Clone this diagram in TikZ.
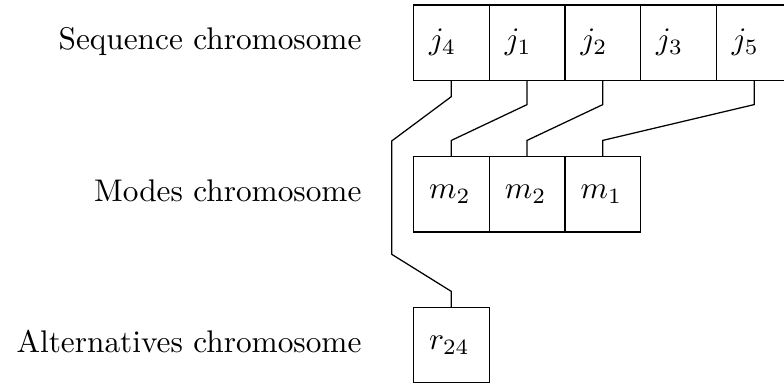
\documentclass[tikz,border=0pt]{standalone}
\begin{document}
\begin{tikzpicture}[x=0.3195pt,y=-0.3195pt,
  cell/.style={draw,line width=0.4pt,rectangle,minimum width=24.19pt,minimum height=24.06pt,
    inner xsep=4.95pt,inner ysep=0pt,text width=14.2pt,align=left},
  lbl/.style={anchor=mid east,inner sep=0pt}]
\useasboundingbox (0,0) rectangle (784,383);
\clip (0,0) rectangle (784,383);
% sequence chromosome
\node[cell] (s1) at (451.35,42.65) {$j_4$};
\node[cell] (s2) at (527.05,42.65) {$j_1$};
\node[cell] (s3) at (602.75,42.65) {$j_2$};
\node[cell] (s4) at (678.45,42.65) {$j_3$};
\node[cell] (s5) at (754.15,42.65) {$j_5$};
% modes chromosome
\node[cell] (m1) at (451.35,194.35) {$m_2$};
\node[cell] (m2) at (527.05,194.35) {$m_2$};
\node[cell] (m3) at (602.75,194.35) {$m_1$};
% alternatives chromosome
\node[cell] (a1) at (451.35,345.35) {$r_{24}$};
% labels
\node[lbl] (l1) at (362,42.65) {Sequence chromosome};
\node[lbl] (l2) at (362,194.35) {Modes chromosome};
\node[lbl] (l3) at (362,345.35) {Alternatives chromosome};
% connectors
\coordinate (b1) at (391.7,141);
\coordinate (b2) at (391.7,254.3);
\draw (s1.south) -- ++(0,15.7) -- (b1) -- (b2) -- ([yshift=5pt]a1.north) -- (a1.north);
\draw (s2.south) -- ++(0,23.7) -- ([yshift=5pt]m1.north) -- (m1.north);
\draw (s3.south) -- ++(0,23.7) -- ([yshift=5pt]m2.north) -- (m2.north);
\draw (s5.south) -- ++(0,23.7) -- ([yshift=5pt]m3.north) -- (m3.north);
\end{tikzpicture}
\end{document}
